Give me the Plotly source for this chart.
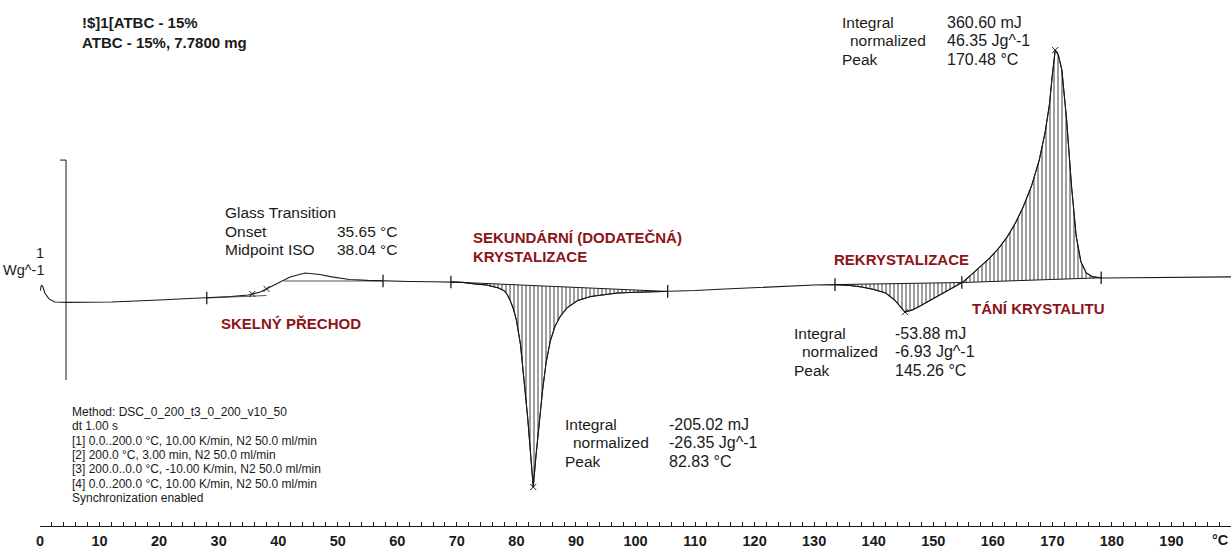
import numpy as np
import plotly.graph_objects as go

# DSC heating curve, ATBC - 15 %  (temperature in °C, heat flow in W/g, endo up)
temperature = [
    0.0, 0.25, 0.5, 0.8, 1.5, 2.5, 4.5, 12, 20, 28, 32, 35, 37, 38, 40, 42, 44.5,
    47, 49, 52, 55, 58, 62, 66, 69, 71, 73, 75, 77, 78, 78.5, 79, 79.5, 80, 80.7,
    81.3, 81.9, 82.4, 82.83, 83.3, 83.8, 84.4, 85, 85.7, 86.5, 87.4, 88.5, 90.3,
    92.5, 94.6, 97, 100, 103, 105.4, 110, 115, 120, 125, 130, 133.5, 136, 138,
    140, 142, 143.5, 145.26, 146.5, 147.8, 149, 150.6, 152, 153.3, 154.3, 155,
    156.5, 158, 159.5, 161, 162.4, 163.8, 165.1, 166.5, 167.8, 168.8, 169.5,
    170.0, 170.48, 171.0, 171.6, 172.4, 173.2, 174.0, 174.8, 175.7, 176.8,
    178.5, 185, 192, 200,
]
heat_flow = [
    0.041, 0.068, 0.059, 0.032, 0.005, -0.009, -0.011, -0.009, 0.000, 0.009,
    0.016, 0.023, 0.036, 0.050, 0.077, 0.105, 0.123, 0.116, 0.105, 0.093, 0.089,
    0.086, 0.084, 0.083, 0.082, 0.080, 0.073, 0.068, 0.055, 0.041, 0.023, -0.005,
    -0.041, -0.091, -0.205, -0.364, -0.536, -0.705, -0.850, -0.705, -0.555,
    -0.409, -0.282, -0.186, -0.118, -0.073, -0.036, -0.002, 0.016, 0.025, 0.032,
    0.035, 0.037, 0.039, 0.043, 0.050, 0.057, 0.064, 0.068, 0.070, 0.066, 0.059,
    0.048, 0.032, 0.000, -0.055, -0.045, -0.027, -0.009, 0.016, 0.039, 0.059,
    0.073, 0.082, 0.118, 0.155, 0.191, 0.236, 0.286, 0.350, 0.423, 0.518, 0.636,
    0.764, 0.886, 1.023, 1.136, 1.114, 1.045, 0.818, 0.523, 0.291, 0.173, 0.123,
    0.105, 0.100, 0.101, 0.102, 0.105,
]

# integration limits of the three evaluated peaks and their peak temperatures
peak_limits = [(69.0, 105.4), (133.5, 154.8), (154.8, 178.2)]
peak_temps = [82.83, 145.26, 170.48]

# glass transition evaluation
glass_limits = [28.0, 57.6]
glass_onset = 35.65
glass_midpoint = 38.04

tick_values = list(range(0, 200, 10))
tick_labels = [str(v) for v in tick_values]
axis_unit = "°C"

FONT = "Liberation Sans, Arial, sans-serif"
INK = "#1a1a1a"
RED = "#8c1418"

T = np.array(temperature, dtype=float)
HF = np.array(heat_flow, dtype=float)


def hf(x):
    return np.interp(x, T, HF)


fig = go.Figure()

# hatched peak areas between curve and straight integration baseline
for a, b in peak_limits:
    inside = (T > a) & (T < b)
    xs = [a] + T[inside].tolist() + [b, a]
    ys = [float(hf(a))] + HF[inside].tolist() + [float(hf(b)), float(hf(a))]
    fig.add_trace(go.Scatter(
        x=xs, y=ys, mode="lines", fill="toself",
        line=dict(color=INK, width=1),
        fillcolor="rgba(0,0,0,0)",
        fillpattern=dict(shape="|", size=4, solidity=0.38,
                         fgcolor="#000000", bgcolor="rgba(0,0,0,0)"),
        hoverinfo="skip", showlegend=False,
    ))

# glass transition tangents
pre_slope = (hf(glass_limits[0]) - hf(20)) / (glass_limits[0] - 20)
pre_x = np.array([glass_limits[0], glass_midpoint])
fig.add_trace(go.Scatter(
    x=pre_x, y=hf(glass_limits[0]) + pre_slope * (pre_x - glass_limits[0]),
    mode="lines", line=dict(color="#555555", width=1), showlegend=False,
))
post_x = np.array([41.0, glass_limits[1]])
fig.add_trace(go.Scatter(
    x=post_x, y=[hf(glass_limits[1])] * 2,
    mode="lines", line=dict(color="#555555", width=1), showlegend=False,
))

# measured curve
fig.add_trace(go.Scatter(
    x=temperature, y=heat_flow, mode="lines",
    line=dict(color=INK, width=1.1), showlegend=False,
))

# evaluation limit markers
limit_x = sorted(set([v for ab in peak_limits for v in ab] + glass_limits))
fig.add_trace(go.Scatter(
    x=limit_x, y=hf(limit_x), mode="markers",
    marker=dict(symbol="line-ns", size=9, line=dict(color=INK, width=1.3)),
    showlegend=False,
))
# peak and midpoint markers
mark_x = peak_temps + [glass_midpoint, glass_onset]
fig.add_trace(go.Scatter(
    x=mark_x, y=hf(mark_x), mode="markers",
    marker=dict(symbol="x-thin", size=6, line=dict(color=INK, width=1)),
    showlegend=False,
))

# 1 W/g scale bar
bar_x = 4.37
bar_top = 0.636
fig.add_shape(type="line", x0=bar_x, x1=bar_x, y0=bar_top, y1=bar_top - 1.0,
              line=dict(color=INK, width=1))
fig.add_shape(type="line", x0=bar_x - 1.0, x1=bar_x, y0=bar_top, y1=bar_top,
              line=dict(color=INK, width=1))

W, H = 1231, 550
L, B = 40, 24
PW, PH = W - L, H - B
Y0 = 300.0      # page row of zero heat flow
SCALE = 220.0   # pixels per W/g


def note(px, py, text, size=15.5, color=INK, bold=False, anchor="left"):
    fig.add_annotation(
        x=(px - L) / PW, y=(PH - py) / PH, xref="paper", yref="paper",
        text=text, showarrow=False, xanchor=anchor, yanchor="middle",
        font=dict(family=FONT, size=size, color=color,
                  weight="bold" if bold else "normal"),
    )


# sample header
note(80, 22, "!$]1[ATBC - 15%", size=15, bold=True)
note(80, 42, "ATBC - 15%, 7.7800 mg", size=15, bold=True)

# scale bar label
note(46, 253, "1", size=14.5, anchor="right")
note(46, 270, "Wg^-1", size=14.5, anchor="right")

# glass transition results
note(223, 213, "Glass Transition")
note(223, 231, "Onset")
note(335, 231, "35.65 °C")
note(223, 250, "Midpoint ISO")
note(335, 250, "38.04 °C")

# peak results
for x0, x1, x2, y0, vals in [
    (563, 571, 667, 424, ["-205.02 mJ", "-26.35 Jg^-1", "82.83 °C"]),
    (792, 800, 893, 333, ["-53.88 mJ", "-6.93 Jg^-1", "145.26 °C"]),
    (840, 848, 945, 22, ["360.60 mJ", "46.35 Jg^-1", "170.48 °C"]),
]:
    note(x0, y0, "Integral")
    note(x1, y0 + 18.5, "normalized")
    note(x0, y0 + 37, "Peak")
    for i, v in enumerate(vals):
        note(x2, y0 + 18.5 * i, v, size=16)

# process labels
note(219, 324, "SKELNÝ PŘECHOD", size=15, color=RED, bold=True)
note(471, 237, "SEKUNDÁRNÍ (DODATEČNÁ)", size=15, color=RED, bold=True)
note(471, 256, "KRYSTALIZACE", size=15, color=RED, bold=True)
note(832, 259, "REKRYSTALIZACE", size=15, color=RED, bold=True)
note(970, 308, "TÁNÍ KRYSTALITU", size=15, color=RED, bold=True)

# method description
method_lines = [
    "Method: DSC_0_200_t3_0_200_v10_50",
    "dt 1.00 s",
    "[1] 0.0..200.0 °C, 10.00 K/min, N2 50.0 ml/min",
    "[2] 200.0 °C, 3.00 min, N2 50.0 ml/min",
    "[3] 200.0..0.0 °C, -10.00 K/min, N2 50.0 ml/min",
    "[4] 0.0..200.0 °C, 10.00 K/min, N2 50.0 ml/min",
    "Synchronization enabled",
]
for i, line in enumerate(method_lines):
    note(70, 412 + 14.3 * i, line, size=12)

# unit label in place of the last tick label
fig.add_annotation(
    x=1.0, y=0, xref="paper", yref="paper", text=axis_unit, showarrow=False,
    xanchor="right", yanchor="top", yshift=-4,
    font=dict(family=FONT, size=14.5, color=INK, weight="bold"),
)

# plot area spans page rows 0..526; zero heat flow sits at row Y0
y_top = Y0 / SCALE
y_bottom = (Y0 - PH) / SCALE

fig.update_layout(
    width=W, height=H,
    margin=dict(l=L, r=0, t=0, b=B, autoexpand=False),
    paper_bgcolor="white", plot_bgcolor="white",
    showlegend=False,
    xaxis=dict(
        range=[0, 200], showgrid=False, zeroline=False,
        showline=True, linecolor=INK, linewidth=1,
        ticks="inside", ticklen=4, tickcolor=INK, tickwidth=1,
        tickmode="array", tickvals=tick_values, ticktext=tick_labels,
        minor=dict(tickmode="linear", tick0=0, dtick=2, ticks="inside",
                   ticklen=4, tickcolor=INK, tickwidth=1),
        tickfont=dict(family=FONT, size=14.5, color=INK, weight="bold"),
        ticklabelstandoff=2,
        fixedrange=True,
    ),
    yaxis=dict(range=[y_bottom, y_top], visible=False, fixedrange=True),
)

fig.write_html("out.html")
